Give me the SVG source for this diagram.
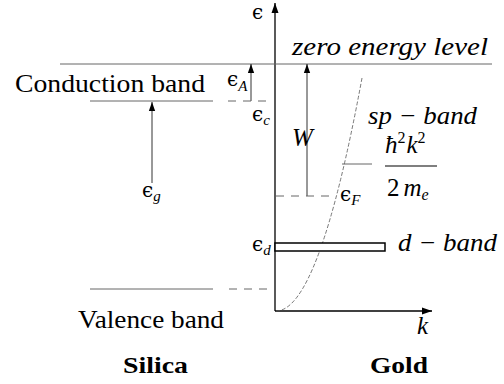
<svg xmlns="http://www.w3.org/2000/svg" width="504" height="384" viewBox="0 0 504 384">
<style>
.thin{stroke:#666;stroke-width:1;fill:none}
.dash{stroke:#666;stroke-width:1;fill:none;stroke-dasharray:8 7}
.ax{stroke:#000;stroke-width:1.3;fill:none}
.arr{stroke:#333;stroke-width:1;fill:none;marker-end:url(#ah)}
</style>
<defs>
<marker id="ah" viewBox="0 0 10 10" refX="10" refY="5" markerWidth="9" markerHeight="9" markerUnits="userSpaceOnUse" orient="auto">
<path d="M0,1.5 L10,5 L0,8.5 Z" fill="#000"/>
</marker>
<marker id="ahb" viewBox="0 0 10 10" refX="10" refY="5" markerWidth="10" markerHeight="10" markerUnits="userSpaceOnUse" orient="auto">
<path d="M0,1.5 L10,5 L0,8.5 Z" fill="#000"/>
</marker>
</defs>
<g id="connectors">
<line class="ax" x1="275" y1="311" x2="275" y2="3" marker-end="url(#ahb)"/>
<line class="ax" x1="275" y1="311" x2="432" y2="311" marker-end="url(#ahb)"/>
<line class="thin" x1="60" y1="64" x2="492" y2="64"/>
<line class="arr" x1="152" y1="183" x2="152" y2="102"/>
<line class="arr" x1="251" y1="101" x2="251" y2="64"/>
<line class="arr" x1="307" y1="196" x2="307" y2="64"/>
<line class="dash" x1="228" y1="101" x2="268" y2="101"/>
<line class="dash" x1="229" y1="289" x2="273" y2="289"/>
<line class="dash" x1="276" y1="196" x2="336" y2="196"/>
<path d="M276,311 Q319,311 362,78" stroke="#555" stroke-width="0.8" fill="none" stroke-dasharray="4 2"/>
<line class="thin" x1="342" y1="164" x2="372" y2="164"/>
</g>
<g id="silica" font-family="Liberation Serif, DejaVu Serif, Times New Roman, serif" fill="#000">
<line class="thin" x1="90" y1="101" x2="213" y2="101"/>
<line class="thin" x1="90" y1="289" x2="213" y2="289"/>
<text x="15" y="92" font-size="25" textLength="190" lengthAdjust="spacingAndGlyphs">Conduction band</text>
<text x="78" y="328" font-size="25" textLength="146" lengthAdjust="spacingAndGlyphs">Valence band</text>
<text x="123" y="373" font-size="24" font-weight="bold" textLength="65" lengthAdjust="spacingAndGlyphs">Silica</text>
<text x="142" y="197" font-size="20" font-family="DejaVu Serif, serif">ϵ<tspan font-style="italic" font-family="Liberation Serif, serif" font-size="15" dy="4">g</tspan></text>
<text x="227" y="86" font-size="20" font-family="DejaVu Serif, serif">ϵ<tspan font-style="italic" font-family="Liberation Serif, serif" font-size="15" dy="5">A</tspan></text>
<text x="252" y="121" font-size="20" font-family="DejaVu Serif, serif">ϵ<tspan font-style="italic" font-family="Liberation Serif, serif" font-size="15" dy="4">c</tspan></text>
</g>
<g id="gold" font-family="Liberation Serif, DejaVu Serif, Times New Roman, serif" fill="#000">
<rect x="275" y="243" width="110" height="8" fill="#fff" stroke="#000" stroke-width="1.5"/>
<text x="252" y="19" font-size="20" font-family="DejaVu Serif, serif">ϵ</text>
<text x="292" y="55" font-size="25" font-style="italic" textLength="196" lengthAdjust="spacingAndGlyphs">zero energy level</text>
<text x="368" y="124" font-size="25" font-style="italic" textLength="109" lengthAdjust="spacingAndGlyphs">sp − band</text>
<text x="398" y="251" font-size="25" font-style="italic" textLength="99" lengthAdjust="spacingAndGlyphs">d − band</text>
<text x="292" y="146" font-size="25" font-style="italic">W</text>
<text x="340" y="201" font-size="20" font-family="DejaVu Serif, serif">ϵ<tspan font-style="italic" font-family="Liberation Serif, serif" font-size="15" dy="4">F</tspan></text>
<text x="252" y="251" font-size="20" font-family="DejaVu Serif, serif">ϵ<tspan font-style="italic" font-family="Liberation Serif, serif" font-size="15" dy="4">d</tspan></text>
<text x="417" y="334" font-size="25" font-style="italic">k</text>
<text x="370" y="373" font-size="24" font-weight="bold" textLength="58" lengthAdjust="spacingAndGlyphs">Gold</text>
<text x="385" y="153" font-size="25" font-style="italic">ħ<tspan font-style="normal" font-size="16" dy="-10">2</tspan><tspan dy="10" dx="1">k</tspan><tspan font-style="normal" font-size="16" dy="-10">2</tspan></text>
<line x1="385" y1="166" x2="437" y2="166" stroke="#000" stroke-width="1.2"/>
<text x="387" y="196" font-size="25">2<tspan font-style="italic" dx="4">m</tspan><tspan font-style="italic" font-size="16" dy="4">e</tspan></text>
</g>
</svg>
